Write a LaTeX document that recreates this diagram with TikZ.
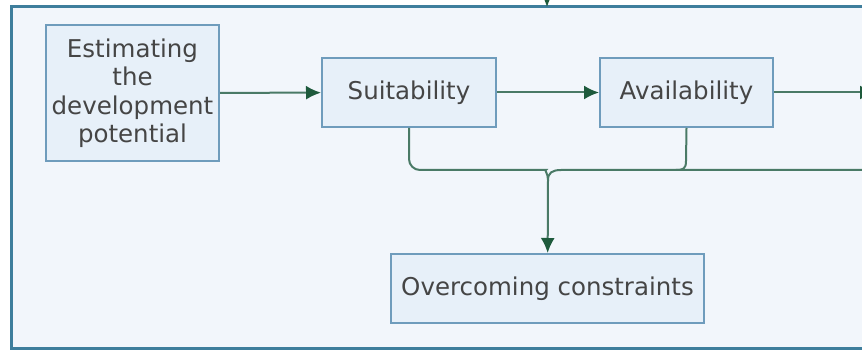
\documentclass[tikz,border=0pt]{standalone}
\usepackage{fontspec}
\setmainfont{DejaVu Sans}
\usepackage{tikz}
\usetikzlibrary{arrows.meta,positioning}

\definecolor{framecol}{HTML}{3E7E9C}
\definecolor{framefill}{HTML}{F2F6FB}
\definecolor{boxfill}{HTML}{E7F0F9}
\definecolor{boxline}{HTML}{6F9CBC}
\definecolor{linkcol}{HTML}{4A7A66}
\definecolor{headcol}{HTML}{1E5A3C}
\definecolor{txtcol}{HTML}{454545}

\tikzset{
  stage/.style={draw=boxline, fill=boxfill, line width=2pt, text=txtcol,
    font=\fontsize{24.5}{28.5}\selectfont, align=center, minimum height=69pt, inner sep=0pt},
  link/.style={draw=linkcol, line width=2pt},
  flow/.style={link, -{Latex[length=15pt,width=14pt,color=headcol]}}
}

\begin{document}
\begin{tikzpicture}[x=1pt,y=1pt]
  \useasboundingbox (0,0) rectangle (862,351);
  \clip (0,0) rectangle (862,351);
  \draw[framecol, fill=framefill, line width=3pt] (11,344) rectangle (890,3);

  \node[stage, minimum width=173pt, minimum height=136pt] (estim) at (132.5,258) {Estimating\\the\\development\\potential};
  \node[stage, minimum width=174pt] (suit) at (409,258.5) {Suitability};
  \node[stage, minimum width=173pt] (avail) at (686.5,258.5) {Availability};
  \node[stage, minimum width=313pt] (overc) at (547.5,62.5) {Overcoming constraints};

  \coordinate (in) at (547,370);
  \coordinate (top) at (547,344);
  \coordinate (out) at (875,258.5);
  \coordinate (tip) at (548,171);
  \coordinate (far) at (890,181);

  % main row
  \draw[flow] (in) -- (top);
  \draw[flow] (estim) -- (suit);
  \draw[flow] (suit) -- (avail);
  \draw[flow] (avail) -- (out);

  % brace gathering the two stages
  \draw[link, rounded corners=11pt] (suit.south) -- (409,181) -- (535,181)
    .. controls (544,181) and (548,178) .. (tip);
  \draw[link] (far) -- (561,181) .. controls (552,181) and (548,178) .. (tip);
  \draw[link] (avail.south) -- (686,190) .. controls (686,182) and (683,181) .. (676,181);
  \draw[flow] (tip) -- (overc);
\end{tikzpicture}
\end{document}
